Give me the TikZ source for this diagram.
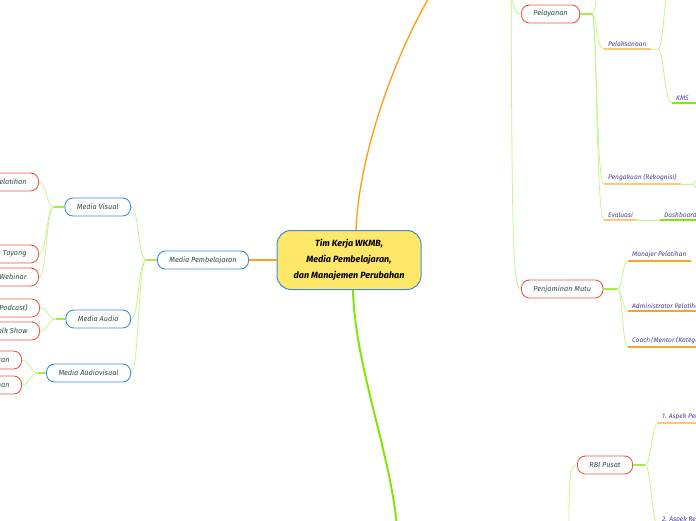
\documentclass[tikz,border=0pt]{standalone}
\usepackage{fontspec}
\setmainfont{Fira Sans}
\definecolor{topikfill}{HTML}{FFE76A}
\definecolor{biru}{HTML}{3B8ED6}
\definecolor{merah}{HTML}{E8594A}
\definecolor{teksKotak}{HTML}{2C4F45}
\definecolor{teksDaun}{HTML}{4B3C9E}
\definecolor{hijauMuda}{HTML}{C4F58A}
\definecolor{hijauStub}{HTML}{A5EC4A}
\definecolor{hijauTerang}{HTML}{82E60A}
\definecolor{oranye}{HTML}{FFA11A}
\definecolor{oranyeMuda}{HTML}{FFC870}
\definecolor{oranyeTua}{HTML}{F4A530}
\begin{document}
\begin{tikzpicture}[x=1pt,y=-1pt,
  topik/.style={draw=biru, fill=topikfill, line width=1pt, rounded corners=14pt,
    minimum width=144pt, minimum height=59pt, align=center, text=black,
    font=\fontsize{9}{16}\selectfont\bfseries\itshape},
  kotakbiru/.style={draw=biru, fill=white, line width=0.9pt, rounded corners=8pt,
    minimum height=18pt, inner xsep=12pt, text=teksKotak,
    font=\fontsize{7.3}{8}\selectfont\itshape},
  kotakmerah/.style={kotakbiru, draw=merah},
  daun/.style={inner xsep=4pt, inner ysep=2.5pt, anchor=south west, text=teksDaun,
    font=\fontsize{6.6}{7}\selectfont\itshape},
  cabang/.style={draw=hijauMuda, line width=0.8pt},
  pangkal/.style={draw=hijauStub, line width=1.6pt},
  garisbawah/.style={draw=oranyeMuda, line width=1.6pt},
  garisbawahtua/.style={draw=oranyeTua, line width=1.2pt},
  garisterang/.style={draw=hijauTerang, line width=1.6pt}]
\useasboundingbox (0,0) rectangle (696,520);
\clip (0,0) rectangle (696,520);

% Drawing central topic
\node[topik] (tim) at (349,260) {Tim Kerja WKMB,\\ Media Pembelajaran,\\ dan Manajemen Perubahan};

% Drawing main branches up and down
\coordinate (parAtas) at (440,-20);
\coordinate (parBawah) at (398,540);
\draw[draw=oranye, line width=1.4pt] ([xshift=7pt]tim.north) .. controls +(3,-80) and +(-40,60) .. (parAtas);
\draw[draw=hijauTerang, line width=2pt] ([xshift=4pt]tim.south) .. controls +(2,80) and +(-4,-80) .. (parBawah);

% Drawing Media Pembelajaran
\node[kotakbiru] (mediaPb) at (203,260) {Media Pembelajaran};
\draw[draw=oranye, line width=1.2pt] (tim.west) -- (mediaPb.east);
\coordinate (jPb) at (146,260);
\draw[pangkal] (mediaPb.west) -- (jPb);

\node[kotakbiru, anchor=east] (mVisual) at (131,207) {Media Visual};
\node[kotakbiru, anchor=east] (mAudio) at (131,319) {Media Audio};
\node[kotakbiru, anchor=east] (mAudiov) at (131,373) {Media Audiovisual};
\foreach \anak in {mVisual, mAudio, mAudiov}
  \draw[cabang] (jPb) .. controls +(-8,0) and +(8,0) .. (\anak.east);

% Media Visual
\coordinate (jMv) at (54,207);
\draw[pangkal] (mVisual.west) -- (jMv);
\node[kotakmerah, anchor=east] (vPelatihan) at (39,182) {Pelatihan};
\node[kotakmerah, anchor=east] (vTayang) at (39,254) {Tayang};
\node[kotakmerah, anchor=east] (vWebinar) at (39,277) {Webinar};
\foreach \anak in {vPelatihan, vTayang, vWebinar}
  \draw[cabang] (jMv) .. controls +(-8,0) and +(8,0) .. (\anak.east);

% Media Audio
\coordinate (jMa) at (56,319);
\draw[pangkal] (mAudio.west) -- (jMa);
\node[kotakmerah, anchor=east] (aPodcast) at (40,308) {(Podcast)};
\node[kotakmerah, anchor=east] (aTalk) at (40,331) {Talk Show};
\foreach \anak in {aPodcast, aTalk}
  \draw[cabang] (jMa) .. controls +(-8,0) and +(8,0) .. (\anak.east);

% Media Audiovisual
\coordinate (jMav) at (38,373);
\draw[pangkal] (mAudiov.west) -- (jMav);
\node[kotakmerah, anchor=east] (avSatu) at (22,360) {Pembelajaran};
\node[kotakmerah, anchor=east] (avDua) at (22,385) {Pelatihan};
\foreach \anak in {avSatu, avDua}
  \draw[cabang] (jMav) .. controls +(-7,0) and +(7,0) .. (\anak.east);

% Drawing right side: Pelayanan and Penjaminan Mutu
\coordinate (parKanan) at (511,-30);
\node[kotakmerah, anchor=west] (pelayanan) at (521,14) {Pelayanan};
\node[kotakmerah, anchor=west] (penjaminan) at (521,289) {Penjaminan Mutu};
\draw[cabang] (parKanan) .. controls +(1,35) and +(-8,0) .. (pelayanan.west);
\draw[cabang] (parKanan) .. controls +(1,280) and +(-8,0) .. (penjaminan.west);

% Pelayanan
\coordinate (jPly) at (592,14);
\coordinate (plyAtas) at (604,-25);
\draw[pangkal] (pelayanan.east) -- (jPly);
\node[daun] (pelaksanaan) at (604,49) {Pelaksanaan};
\node[daun] (pengakuan) at (604,184) {Pengakuan (Rekognisi)};
\node[daun] (evaluasi) at (604,220) {Evaluasi};
\foreach \anak in {plyAtas, pelaksanaan.south west, pengakuan.south west, evaluasi.south west}
  \draw[cabang] (jPly) .. controls +(5,0) and +(-8,0) .. (\anak);
\foreach \d in {pelaksanaan, pengakuan, evaluasi}
  \draw[garisbawah] (\d.south west) -- (\d.south east);

% Pelaksanaan
\coordinate (jPlk) at (658,49);
\coordinate (plkAtas) at (672,-20);
\draw[cabang] (pelaksanaan.south east) -- (jPlk);
\node[daun] (kms) at (672,103) {KMS};
\draw[cabang] (jPlk) .. controls +(6,0) and +(-8,0) .. (plkAtas);
\draw[cabang] (jPlk) .. controls +(6,0) and +(-8,0) .. (kms.south west);
\draw[garisterang] (kms.south west) -- ([xshift=6pt]kms.south east);

% Pengakuan
\coordinate (jPk) at (692,184);
\coordinate (pkAtas) at (706,166);
\coordinate (pkBawah) at (706,202);
\draw[cabang] (pengakuan.south east) -- (jPk);
\draw[cabang] (jPk) .. controls +(4,0) and +(-4,0) .. (pkAtas);
\draw[cabang] (jPk) .. controls +(4,0) and +(-4,0) .. (pkBawah);

% Evaluasi
\node[daun] (dashboard) at (660,220) {Dashboard};
\draw[cabang] (evaluasi.south east) -- (dashboard.south west);
\draw[garisterang] (dashboard.south west) -- (dashboard.south east);

% Penjaminan Mutu
\coordinate (jPm) at (617,289);
\draw[pangkal] (penjaminan.east) -- (jPm);
\node[daun] (manajer) at (628,261) {Manajer Pelatihan};
\node[daun] (admin) at (628,311) {Administrator Pelatihan};
\node[daun] (coach) at (628,347) {Coach/Mentor (Kategori)};
\foreach \anak in {manajer, admin, coach}{
  \draw[cabang] (jPm) .. controls +(6,0) and +(-6,0) .. (\anak.south west);
  \draw[garisbawahtua] (\anak.south west) -- (\anak.south east);
}

% RBI Pusat
\coordinate (parRbi) at (569,540);
\node[kotakmerah, anchor=west] (rbi) at (577,465) {RBI Pusat};
\draw[cabang] (parRbi) .. controls +(0,-60) and +(-8,0) .. (rbi.west);
\coordinate (jRbi) at (645,465);
\draw[pangkal] (rbi.east) -- (jRbi);
\node[daun] (aspekSatu) at (658,423) {1. Aspek Pelatihan};
\node[daun] (aspekDua) at (658,526) {2. Aspek Rekognisi};
\foreach \anak in {aspekSatu, aspekDua}
  \draw[cabang] (jRbi) .. controls +(6,0) and +(-6,0) .. (\anak.south west);
\draw[garisbawah] (aspekSatu.south west) -- (aspekSatu.south east);
\draw[garisbawah] (aspekDua.south west) -- (aspekDua.south east);
\end{tikzpicture}
\end{document}
